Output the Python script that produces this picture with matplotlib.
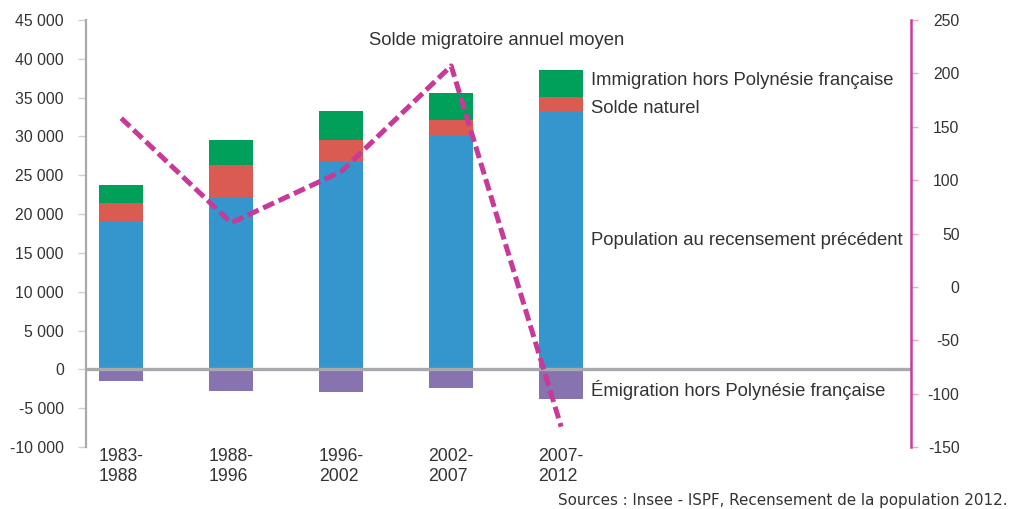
import numpy as np
import matplotlib.pyplot as plt

plt.rcParams['font.family'] = ['Liberation Sans', 'DejaVu Sans']
plt.rcParams['axes.unicode_minus'] = False

periods = ['1983-\n1988', '1988-\n1996', '1996-\n2002', '2002-\n2007', '2007-\n2012']
population_prec = [19100, 22250, 26870, 30250, 33130]
solde_naturel = [2370, 4110, 2730, 1850, 2010]
immigration = [2280, 3240, 3660, 3560, 3460]
emigration = [-1500, -2740, -2870, -2400, -3860]
solde_migratoire = [158, 60, 108, 207, -131]

blue = '#3596cd'
red = '#d95b52'
green = '#00a05a'
purple = '#8673af'
magenta = '#c9399a'
grey = '#a7a9ac'
txt = '#333333'

x = np.arange(len(periods))
w = 0.4

fig, ax = plt.subplots(figsize=(10.11, 5.09), dpi=100)
fig.subplots_adjust(left=0.0851, right=0.901, top=0.9607, bottom=0.1218)

ax.bar(x, population_prec, w, color=blue)
ax.bar(x, solde_naturel, w, bottom=population_prec, color=red)
top2 = np.add(population_prec, solde_naturel)
ax.bar(x, immigration, w, bottom=top2, color=green)
ax.bar(x, emigration, w, color=purple)
ax.axhline(0, color=grey, lw=2.4, zorder=3)

ax.set_xlim(-0.32, 7.18)
ax.set_ylim(-10000, 45000)
yt = list(range(-10000, 45001, 5000))
ax.set_yticks(yt)
ax.set_yticklabels([f"{v:,}".replace(',', ' ') for v in yt])
ax.set_xticks(x)
ax.set_xticklabels(periods, multialignment='left')
ax.tick_params(axis='x', length=0, pad=1, labelsize=12.7, labelcolor=txt)
ax.tick_params(axis='y', length=6, width=1, color='#d0d0d0', pad=10,
               labelsize=11.3, labelcolor=txt)
for s in ['top', 'right', 'bottom']:
    ax.spines[s].set_visible(False)
ax.spines['left'].set_color(grey)
ax.spines['left'].set_linewidth(1.6)

# labels for the last bar (small vertical nudges to match the original)
last = len(x) - 1
lab_y = [
    ('Immigration hors Polynésie française', top2[last] + immigration[last] / 2, 2),
    ('Solde naturel', population_prec[last] + solde_naturel[last] / 2, -3),
    ('Population au recensement précédent', population_prec[last] / 2, 0),
    ('Émigration hors Polynésie française', emigration[last] / 2, -4),
]
for t, yv, dy in lab_y:
    ax.annotate(t, xy=(x[last] + w / 2, yv), xytext=(6, dy), textcoords='offset points',
                va='center', ha='left', fontsize=13.3, color=txt)

ax2 = ax.twinx()
ax2.plot(x, solde_migratoire, color=magenta, lw=3.6, ls=(0, (2.4, 1.0)),
         dash_capstyle='butt', zorder=5)
ax2.set_ylim(-150, 250)
ax2.set_yticks(range(-150, 251, 50))
ax2.tick_params(axis='y', length=5, width=1, color='#eaa6cf', pad=30,
                labelsize=11.3, labelcolor=txt)
for lbl in ax2.get_yticklabels():
    lbl.set_horizontalalignment('right')
for s in ['top', 'left', 'bottom']:
    ax2.spines[s].set_visible(False)
ax2.spines['right'].set_color(magenta)
ax2.spines['right'].set_linewidth(1.8)

ax.text(0.498, 0.953, 'Solde migratoire annuel moyen', transform=ax.transAxes,
        ha='center', va='center', fontsize=13.3, color=txt)

fig.text(0.997, 0.016, 'Sources : Insee - ISPF, Recensement de la population 2012.',
         ha='right', va='center', fontsize=10.9, color=txt, family='DejaVu Sans')

plt.savefig('out.png', dpi=100)
